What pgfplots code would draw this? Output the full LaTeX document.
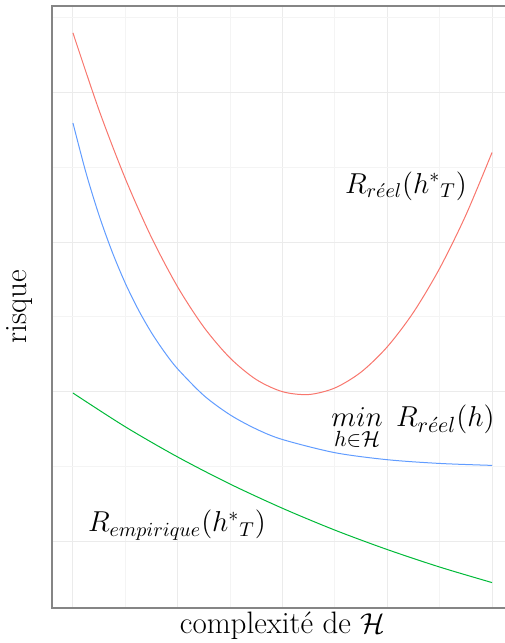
\documentclass[border=0pt]{standalone}
\usepackage{amsmath}
\usepackage{pgfplots}
\pgfplotsset{compat=1.18}

\definecolor{cred}{HTML}{F8766D}
\definecolor{cblue}{HTML}{619CFF}
\definecolor{cgreen}{HTML}{00BA38}
\definecolor{gmaj}{HTML}{EBEBEB}
\definecolor{gmin}{HTML}{F4F4F4}
\definecolor{border}{HTML}{858585}

\begin{document}
\begin{tikzpicture}
  \begin{axis}[
    name=ax,
    scale only axis,
    width=230.5pt, height=301pt,
    xmin=-0.2, xmax=4.2,
    ymin=-0.448, ymax=3.579,
    xtick={0,1,2,3,4}, minor xtick={0.5,1.5,2.5,3.5},
    ytick={0,1,2,3}, minor ytick={-0.5,0.5,1.5,2.5,3.5},
    xticklabels={}, yticklabels={},
    major tick length=0pt, minor tick length=0pt,
    grid=both,
    major grid style={gmaj, line width=0.5pt},
    minor grid style={gmin, line width=0.4pt},
    axis line style={border, line width=0.6pt},
    xlabel={complexité de $\mathcal{H}$},
    ylabel={risque},
    x label style={at={(axis description cs:0.5,0)}, anchor=north,
      inner sep=0pt, yshift=-2pt, font=\fontsize{15.5}{18}\selectfont},
    y label style={at={(axis description cs:-0.041,0.5)},
      anchor=south, inner sep=0pt, font=\fontsize{15.5}{18}\selectfont},
    every axis plot/.append style={line width=0.5pt, smooth, no marks},
  ]
    % risque réel
    \addplot[cred] coordinates {
      (0,3.399) (0.25,2.880) (0.5,2.424) (0.75,2.030) (1.0,1.699)
      (1.25,1.430) (1.5,1.224) (1.75,1.080) (2.0,0.999) (2.25,0.980)
      (2.5,1.024) (2.75,1.130) (3.0,1.299) (3.25,1.530) (3.5,1.824)
      (3.75,2.180) (4.0,2.599)
    };
    % min risque réel
    \addplot[cblue] coordinates {
      (0,2.796) (0.125,2.462) (0.25,2.177) (0.375,1.933) (0.5,1.724)
      (0.625,1.546) (0.75,1.393) (0.875,1.263) (1.0,1.151) (1.25,0.973)
      (1.5,0.844) (1.75,0.749) (2.0,0.679) (2.5,0.591) (3.0,0.544)
      (3.5,0.519) (4.0,0.506)
    };
    % risque empirique
    \addplot[cgreen] coordinates {
      (0,0.990) (0.5,0.764) (1.0,0.562) (1.5,0.381) (2.0,0.219)
      (2.5,0.073) (3.0,-0.057) (3.5,-0.174) (4.0,-0.278)
    };

    \node[anchor=base, inner sep=0pt, font=\fontsize{14.3}{16}\selectfont]
      at (axis cs:3.179,2.328) {$R_{r\acute{e}el}({h^{*}}_{T})$};
    \node[anchor=base, inner sep=0pt, font=\fontsize{15}{17}\selectfont]
      at (axis cs:3.246,0.763) {$\underset{h\in\mathcal{H}}{min}\hspace{0.45em}R_{r\acute{e}el}(h)$};
    \node[anchor=base, inner sep=0pt, font=\fontsize{14.7}{17}\selectfont]
      at (axis cs:0.993,0.062) {$R_{empirique}({h^{*}}_{T})$};
  \end{axis}
  \pgfresetboundingbox
  \path ([shift={(-26pt,-17.5pt)}]ax.south west) rectangle ([shift={(-4pt,3pt)}]ax.north east);
\end{tikzpicture}
\end{document}
